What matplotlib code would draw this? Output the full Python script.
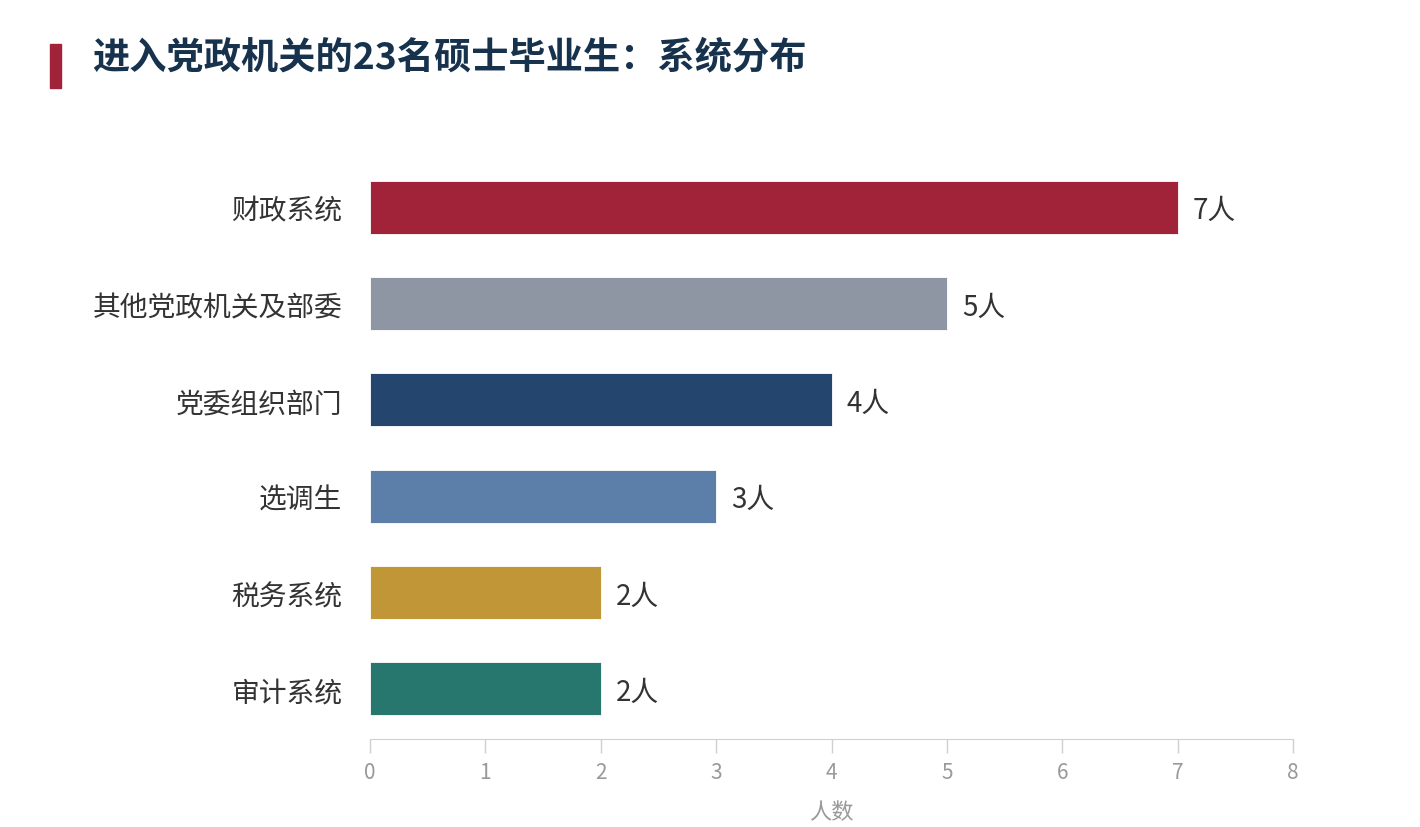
import matplotlib
matplotlib.use('Agg')
import matplotlib.pyplot as plt
from matplotlib.patches import Rectangle

plt.rcParams['font.family'] = ['Noto Sans CJK SC', 'DejaVu Sans']

categories = ['财政系统', '其他党政机关及部委', '党委组织部门', '选调生', '税务系统', '审计系统']
counts = [7, 5, 4, 3, 2, 2]
colors = ['#a0233a', '#8e96a3', '#23456e', '#5b7fa9', '#c09636', '#28776f']
title = '进入党政机关的23名硕士毕业生：系统分布'

fig = plt.figure(figsize=(14.2, 8.28), dpi=100)
ax = fig.add_axes([370 / 1420, 1 - 740 / 828, (1293 - 370) / 1420, 580 / 828])

y = list(range(len(categories)))
ax.barh(y, counts, height=0.55, color=colors, edgecolor='white', linewidth=0.6)
for yi, c in zip(y, counts):
    ax.text(c + 0.13, yi + 0.03, f'{c}人', va='center', ha='left', fontsize=20,
            fontweight='medium', color='#333333')

ax.set_xlim(0, 8)
ax.set_ylim(5.52, -0.5)
ax.set_yticks(y)
ax.set_yticklabels(categories, fontsize=20, fontweight='medium', color='#333333')
ax.tick_params(axis='y', length=0, pad=20)
ax.set_xticks(range(9))
ax.tick_params(axis='x', colors='#d0d0d0', labelcolor='#999999', labelsize=15, length=10, width=1, pad=6)
for s in ['top', 'right', 'left']:
    ax.spines[s].set_visible(False)
ax.spines['bottom'].set_color('#d0d0d0')
ax.set_xlabel('人数', fontsize=16, color='#999999', labelpad=12)

fig.patches.append(Rectangle((50 / 1420, 1 - 89 / 828), 11 / 1420, 44 / 828,
                             transform=fig.transFigure, color='#a0233a'))
fig.text(92 / 1420, 1 - 58 / 828, title, fontsize=26.8, fontweight='bold',
         color='#17324d', va='center', ha='left')

fig.savefig('out.png', dpi=100, facecolor='white')
